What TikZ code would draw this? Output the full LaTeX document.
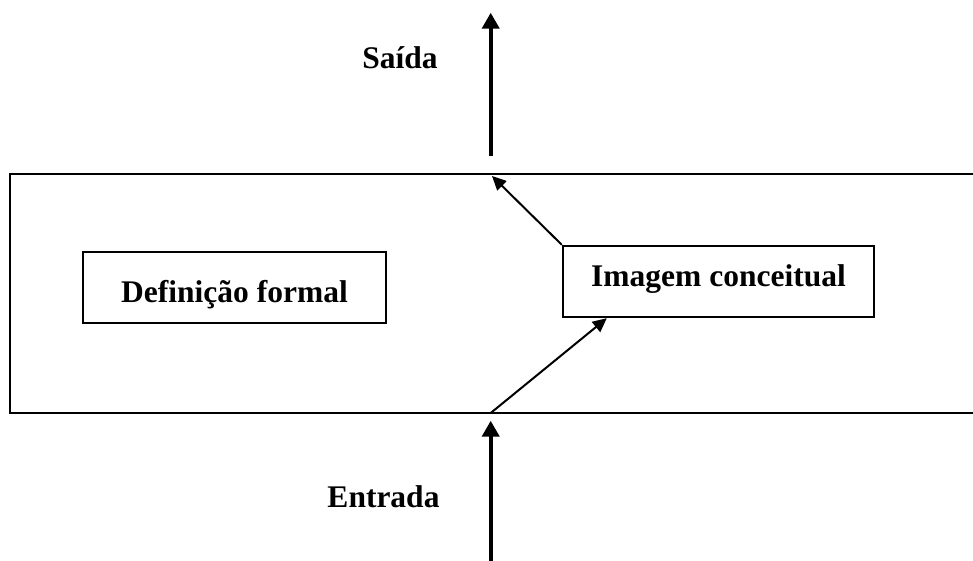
\documentclass[tikz,border=0pt]{standalone}
\usepackage{fontspec}
\setmainfont{Liberation Serif}
\usetikzlibrary{arrows.meta}
\begin{document}
\begin{tikzpicture}[x=1pt,y=-1pt,
  frame/.style={draw, line width=2.4pt, rectangle, inner sep=0pt},
  lbl/.style={font=\bfseries\fontsize{31.5}{36}\selectfont, inner sep=0pt},
  bigarrow/.style={line width=4.2pt, -{Triangle[width=17pt,length=16pt]}},
  smallarrow/.style={line width=2pt, -{Triangle[width=13pt,length=14pt]}}]
\useasboundingbox (0,0) rectangle (973,561);
\clip (0,0) rectangle (973,561);
\node[frame, minimum width=975pt, minimum height=239pt] (outer) at (497.5,293.5) {};
\node[frame, lbl, minimum width=303pt, minimum height=71pt, text height=30pt, text depth=0pt] (def) at (234.5,287.5) {Definição formal};
\node[frame, lbl, minimum width=311pt, minimum height=71pt, text height=9pt, text depth=0pt] (img) at (718.5,281.5) {Imagem conceitual};
\node[lbl, anchor=base] (saida) at (400,69) {Saída};
\node[lbl, anchor=base] (entrada) at (383.5,507) {Entrada};
\coordinate (outS) at (490.7,155.7);
\coordinate (outE) at (490.7,12.7);
\coordinate (inS) at (490.7,565);
\coordinate (inE) at (490.7,420.7);
\coordinate (jin) at (490.7,413);
\coordinate (jout) at (492,176);
\draw[bigarrow] (outS) -- (outE);
\draw[bigarrow] (inS) -- (inE);
\draw[smallarrow] (jin) -- ([xshift=45pt]img.south west);
\draw[smallarrow] (img.north west) -- (jout);
\end{tikzpicture}
\end{document}
